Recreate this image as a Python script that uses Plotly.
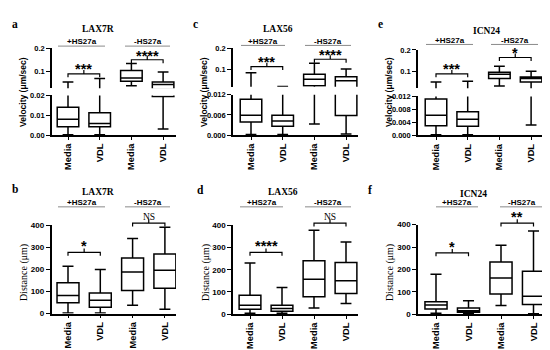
import plotly.graph_objects as go

W, H = 550, 350
SANS = "Liberation Sans"
SERIF = "Liberation Serif"

categories = ["Media", "VDL", "Media", "VDL"]
positions = [0, 1, 2, 3]
group_labels = ["+HS27a", "-HS27a"]

# ---- Velocity (um/sec): order = Media+HS27a, VDL+HS27a, Media-HS27a, VDL-HS27a
lax7r_vel_lo = [0.0002, 0.0002, 0.036, 0.0031]
lax7r_vel_q1 = [0.0042, 0.0042, 0.056, 0.0195]
lax7r_vel_med = [0.0080, 0.0059, 0.070, 0.042]
lax7r_vel_q3 = [0.0141, 0.0113, 0.103, 0.053]
lax7r_vel_hi = [0.053, 0.0675, 0.134, 0.096]

lax56_vel_lo = [0.0002, 0.0002, 0.0033, 0.0003]
lax56_vel_q1 = [0.0039, 0.0026, 0.025, 0.0058]
lax56_vel_med = [0.0059, 0.0042, 0.056, 0.049]
lax56_vel_q3 = [0.0107, 0.0059, 0.079, 0.067]
lax56_vel_hi = [0.086, 0.022, 0.131, 0.104]

icn24_vel_lo = [0.0002, 0.0002, 0.030, 0.0032]
icn24_vel_q1 = [0.0030, 0.0028, 0.065, 0.049]
icn24_vel_med = [0.0062, 0.0050, 0.085, 0.065]
icn24_vel_q3 = [0.0112, 0.0073, 0.095, 0.072]
icn24_vel_hi = [0.049, 0.052, 0.123, 0.100]

# ---- Distance (um)
lax7r_dist_lo = [3, 2, 38, 19]
lax7r_dist_q1 = [49, 29, 104, 115]
lax7r_dist_med = [82, 60, 188, 196]
lax7r_dist_q3 = [140, 93, 252, 270]
lax7r_dist_hi = [215, 200, 340, 392]

lax56_dist_lo = [3, 3, 27, 48]
lax56_dist_q1 = [22, 12, 78, 93]
lax56_dist_med = [40, 25, 157, 150]
lax56_dist_q3 = [85, 40, 240, 232]
lax56_dist_hi = [230, 120, 378, 325]

icn24_dist_lo = [3, 1, 38, 1]
icn24_dist_q1 = [22, 8, 90, 43]
icn24_dist_med = [40, 15, 161, 80]
icn24_dist_q3 = [55, 27, 233, 192]
icn24_dist_hi = [178, 60, 308, 372]

sig_vel = [["***", "****"], ["***", "****"], ["***", "*"]]
sig_dist = [["*", "NS"], ["****", "NS"], ["*", "**"]]
titles = ["LAX7R", "LAX56", "ICN24"]
letters_top = ["a", "c", "e"]
letters_bot = ["b", "d", "f"]


def pxx(x):
    return x / W


def pyy(y):
    return 1 - y / H


fig = go.Figure()
layout = {}
shapes = []
annotations = []


def ann(text, x, y, size, family=SANS, bold=True, angle=0, xanchor="center", yanchor="middle"):
    annotations.append(dict(
        text=("<b>%s</b>" % text) if bold else text, x=pxx(x), y=pyy(y), xref="paper", yref="paper",
        showarrow=False, textangle=angle, xanchor=xanchor, yanchor=yanchor,
        font=dict(family=family, size=size, color="black")))


def add_panel(xid, yids, geom, segs, stats, sigs, title, letter, ytitle, ytfont):
    xl, xr, t0, step = geom["x"]
    xname = "xaxis" if xid == 1 else "xaxis%d" % xid
    xref = "x" if xid == 1 else "x%d" % xid
    yref0 = "y" if yids[0] == 1 else "y%d" % yids[0]
    layout[xname] = dict(
        domain=[pxx(xl), pxx(xr)], range=[(xl - t0) / step, (xr - t0) / step],
        anchor=yref0, showline=True, linecolor="black", linewidth=1.6,
        ticks="outside", ticklen=3, tickwidth=1.3, tickcolor="black",
        tickvals=positions, ticktext=categories, tickangle=-90,
        tickfont=dict(family=SANS, size=9.3, color="black", weight="bold"),
        showgrid=False, zeroline=False, fixedrange=True)
    lo, q1, med, q3, hi = stats
    for yid, seg in zip(yids, segs):
        ytop, ybot, rmin, rmax, tv, tt, tfs = seg
        yname = "yaxis" if yid == 1 else "yaxis%d" % yid
        yref = "y" if yid == 1 else "y%d" % yid
        layout[yname] = dict(
            domain=[pyy(ybot), pyy(ytop)], range=[rmin, rmax], anchor=xref,
            showline=True, linecolor="black", linewidth=1.6,
            ticks="outside", ticklen=4, tickwidth=1.3, tickcolor="black",
            tickvals=tv, ticktext=tt,
            tickfont=dict(family=SANS, size=tfs, color="#000000", weight="bold"),
            showgrid=False, zeroline=False, fixedrange=True)
        fig.add_trace(go.Box(
            x=positions, q1=q1, median=med, q3=q3, lowerfence=lo, upperfence=hi,
            xaxis=xref, yaxis=yref, width=0.68, whiskerwidth=0.5,
            fillcolor="white", line=dict(color="black", width=1.5),
            boxpoints=False, showlegend=False, hoverinfo="skip"))
    # significance brackets (x in category positions, y in pixels)
    for (i0, i1), (yb, ys), s, fs in zip([(0, 1), (2, 3)], geom["br"], sigs, geom["sigsize"]):
        xm = (i0 + i1) / 2
        path = "M %g,%g L %g,%g L %g,%g L %g,%g M %g,%g L %g,%g" % (
            i0, pyy(yb + 3.5), i0, pyy(yb), i1, pyy(yb), i1, pyy(yb + 3.5),
            xm, pyy(yb), xm, pyy(yb - 4))
        shapes.append(dict(type="path", path=path, xref=xref, yref="paper",
                           line=dict(color="black", width=1.2)))
        if s == "NS":
            ann(s, t0 + xm * step, ys, 9.5, family=SERIF, bold=False)
        else:
            ann(s, t0 + xm * step, ys, fs)
    # group labels with gray lines
    for (gx0, gx1), lab in zip(geom["grp"], group_labels):
        gy = geom["grpy"]
        shapes.append(dict(type="line", xref="paper", yref="paper", x0=pxx(gx0), x1=pxx(gx1),
                           y0=pyy(gy), y1=pyy(gy), line=dict(color="#8a8a8a", width=1)))
        ann(lab, (gx0 + gx1) / 2, gy - 4.5, 8)
    tx, ty = geom["title"]
    ann(title, tx, ty, 9.5, family=SERIF)
    lx, ly = geom["letter"]
    ann(letter, lx, ly, 11.5, family=SERIF)
    yx, yy = geom["ytitle"]
    ann(ytitle, yx, yy, ytfont[0], family=ytfont[1], bold=ytfont[2], angle=-90)


vel_stats = [
    (lax7r_vel_lo, lax7r_vel_q1, lax7r_vel_med, lax7r_vel_q3, lax7r_vel_hi),
    (lax56_vel_lo, lax56_vel_q1, lax56_vel_med, lax56_vel_q3, lax56_vel_hi),
    (icn24_vel_lo, icn24_vel_q1, icn24_vel_med, icn24_vel_q3, icn24_vel_hi),
]
dist_stats = [
    (lax7r_dist_lo, lax7r_dist_q1, lax7r_dist_med, lax7r_dist_q3, lax7r_dist_hi),
    (lax56_dist_lo, lax56_dist_q1, lax56_dist_med, lax56_dist_q3, lax56_dist_hi),
    (icn24_dist_lo, icn24_dist_q1, icn24_dist_med, icn24_dist_q3, icn24_dist_hi),
]

SS = 14.5
top_geom = [
    dict(x=(44, 168, 60, 31.7), br=[(63.5, 58), (49, 45)], sigsize=[SS, SS],
         grp=[(50, 97), (117, 162)], grpy=35, title=(90, 17), letter=(7, 12), ytitle=(15, 82)),
    dict(x=(225, 350, 243, 31.7), br=[(56, 51), (48.5, 44.5)], sigsize=[SS, SS],
         grp=[(233, 277), (297, 343)], grpy=34.3, title=(270, 17), letter=(187, 12), ytitle=(196, 82)),
    dict(x=(410, 536, 428, 31.7), br=[(63.5, 58), (46.7, 42.5)], sigsize=[SS, SS],
         grp=[(418, 465), (483, 530)], grpy=33.3, title=(478, 20), letter=(372, 12), ytitle=(381, 82)),
]
top_segs = [
    [(85.7, 126.3, 0, 0.02, [0, 0.01, 0.02], ["0.00", "0.01", "0.02"], 7.5),
     (37.3, 78.3, 0.025, 0.2, [0.1, 0.2], ["0.1", "0.2"], 7.5)],
    [(85.0, 126.3, 0, 0.012, [0, 0.006, 0.012], ["0.000", "0.006", "0.012"], 7.5),
     (37.3, 76.7, 0.021, 0.2, [0.1, 0.2], ["0.1", "0.2"], 7.5)],
    [(86.7, 126.7, 0, 0.012, [0, 0.004, 0.008, 0.012], ["0.000", "0.004", "0.008", "0.012"], 7.5),
     (39.0, 78.3, 0.019, 0.2, [0.1, 0.2], ["0.1", "0.2"], 7.5)],
]
bot_geom = [
    dict(x=(43.5, 168, 60, 32.3), br=[(246.7, 240.5), (216.7, 210)], sigsize=[SS, SS],
         grp=[(50, 97), (117, 162)], grpy=200, title=(90, 185), letter=(7, 182), ytitle=(16, 268)),
    dict(x=(225, 350, 242, 32), br=[(246.7, 240.5), (216.7, 210)], sigsize=[SS, SS],
         grp=[(232, 275), (297, 343)], grpy=200, title=(275, 185), letter=(192, 183), ytitle=(198, 268)),
    dict(x=(410, 540, 428, 32.5), br=[(247.3, 241), (216.7, 210.5)], sigsize=[SS, SS],
         grp=[(428, 470), (492, 535)], grpy=200, title=(465, 186.7), letter=(362, 183), ytitle=(382, 268)),
]
dist_ticks = [0, 100, 200, 300, 400]

yid = 1
for k in range(3):
    add_panel(k + 1, [yid, yid + 1], top_geom[k], top_segs[k], vel_stats[k], sig_vel[k],
              titles[k], letters_top[k], "Velocity (\u03bcm/sec)", (8.5, SANS, True))
    yid += 2
for k in range(3):
    seg = [(219 if k < 2 else 218.3, 309.5 if k == 0 else 310, 0, 400, dist_ticks,
            [str(v) for v in dist_ticks], 8)]
    add_panel(k + 4, [yid], bot_geom[k], seg, dist_stats[k], sig_dist[k],
              titles[k], letters_bot[k], "Distance (\u03bcm)", (10, SERIF, False))
    yid += 1

fig.update_layout(
    width=W, height=H, margin=dict(l=0, r=0, t=0, b=0),
    paper_bgcolor="white", plot_bgcolor="white",
    shapes=shapes, annotations=annotations, showlegend=False, **layout)
fig.write_html("out.html")
